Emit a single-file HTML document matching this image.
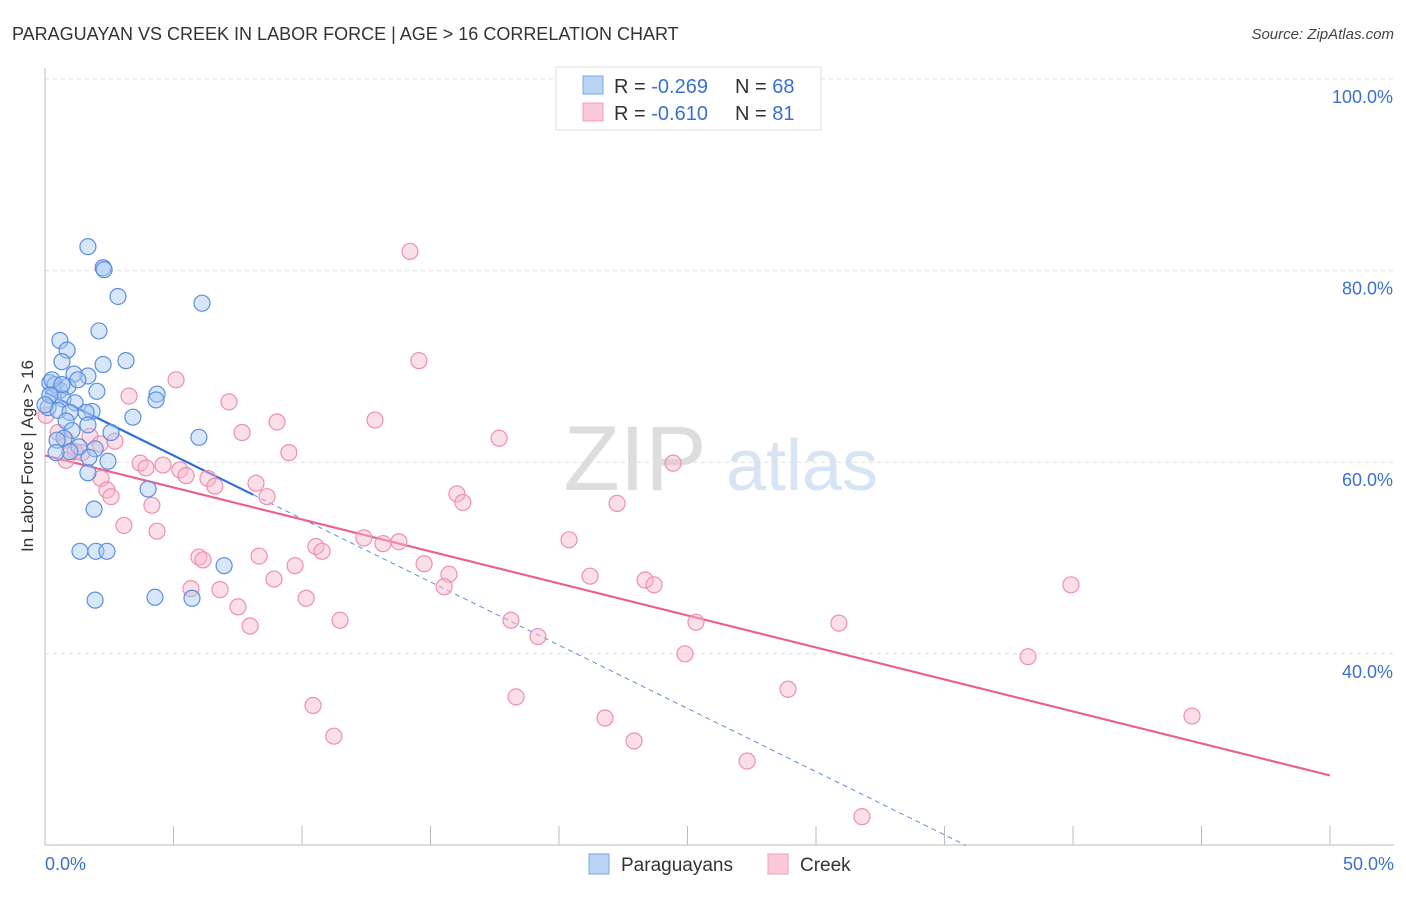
<!DOCTYPE html>
<html><head><meta charset="utf-8">
<style>
body{margin:0;background:#fff;font-family:"Liberation Sans",sans-serif;}
svg text{font-family:"Liberation Sans",sans-serif;}
</style></head>
<body>
<svg id="chart" width="1406" height="892" viewBox="0 0 1406 892" xmlns="http://www.w3.org/2000/svg">
<text x="12" y="40" font-size="18" fill="#333">PARAGUAYAN VS CREEK IN LABOR FORCE | AGE &gt; 16 CORRELATION CHART</text>
<text x="1394" y="39" font-size="15" fill="#444" text-anchor="end" font-style="italic">Source: ZipAtlas.com</text>
<g>
<text x="635" y="490" font-size="92" fill="#ddd" text-anchor="middle" font-family="Liberation Serif">ZIP</text>
<text x="802" y="490" font-size="72" fill="#d6e4f4" text-anchor="middle">atlas</text>
</g>
<g id="grid"></g>
<g id="axes"></g>
<g id="lines"></g>
<g id="points"></g>
<text transform="translate(33,456) rotate(-90)" font-size="17" fill="#333" text-anchor="middle">In Labor Force | Age &gt; 16</text>
<g>
<rect x="556" y="67" width="265" height="63" fill="#fff" stroke="#ddd"/>
<rect x="583" y="76" width="20" height="18" fill="#b9d3f5" stroke="#7aa7e6"/>
<rect x="583" y="103" width="20" height="18" fill="#fbc9d8" stroke="#f0a0b8"/>
<text x="614" y="93" font-size="20" fill="#333">R = <tspan fill="#3a70d0">-0.269</tspan><tspan x="735">N = </tspan><tspan fill="#3a70d0">68</tspan></text>
<text x="614" y="120" font-size="20" fill="#333">R = <tspan fill="#3a70d0">-0.610</tspan><tspan x="735">N = </tspan><tspan fill="#3a70d0"> 81</tspan></text>
</g>
<g>
<rect x="589" y="854" width="20" height="20" fill="#b9d3f5" stroke="#7aa7e6"/>
<text x="621" y="871" font-size="19" fill="#333">Paraguayans</text>
<rect x="768" y="854" width="20" height="20" fill="#fbc9d8" stroke="#f0a0b8"/>
<text x="800" y="871" font-size="19" fill="#333">Creek</text>
</g>
</svg>
<script>
const blueX=[1.67,2.26,2.30,2.84,6.11,0.58,2.10,0.86,0.66,2.26,3.15,1.67,1.13,2.02,4.36,4.32,0.19,0.39,0.58,0.89,0.31,0.70,1.17,0.12,0.51,0.97,1.83,1.60,3.42,0.82,1.67,1.05,0.74,2.57,5.99,0.47,1.32,1.95,0.97,0.43,1.71,2.45,1.67,4.01,1.91,1.36,1.98,2.41,6.97,1.95,4.28,5.72,0.27,0.19,0.66,1.28,0];
const blueY=[82.5,80.3,80.1,77.3,76.6,72.7,73.7,71.7,70.5,70.2,70.6,69.0,69.2,67.4,67.1,66.5,68.3,68.1,67.5,67.9,66.9,66.6,66.2,65.7,65.4,65.2,65.3,65.2,64.7,64.3,63.9,63.3,62.5,63.1,62.6,62.3,61.6,61.4,61.1,61.0,60.5,60.1,58.9,57.2,55.1,50.7,50.7,50.7,49.2,45.6,45.9,45.8,68.6,67.0,68.1,68.6,66.0];
const pinkX=[14.20,14.55,5.10,3.27,7.16,9.03,12.84,7.67,17.67,9.49,24.44,0.82,1.75,2.14,2.72,1.17,3.70,4.59,3.93,5.25,5.49,6.34,6.61,8.21,8.64,2.18,2.41,2.57,4.16,3.07,4.36,16.03,16.26,22.26,12.41,13.15,13.77,20.39,10.54,10.78,8.33,5.99,6.15,9.73,14.75,15.72,21.21,23.35,23.70,8.91,5.68,6.81,10.16,15.53,7.51,7.98,11.48,18.13,19.18,25.33,30.89,39.92,24.90,38.25,10.43,18.33,28.91,21.79,22.92,11.24,27.32,31.79,44.63,0.82,1.44,0.04,0.51];
const pinkY=[82.0,70.6,68.6,66.9,66.3,64.2,64.4,63.1,62.5,61.0,59.9,62.3,62.7,61.9,62.2,61.1,59.9,59.7,59.4,59.2,58.6,58.3,57.5,57.8,56.4,58.3,57.1,56.4,55.5,53.4,52.8,56.7,55.8,55.7,52.1,51.5,51.7,51.9,51.2,50.7,50.2,50.1,49.8,49.2,49.4,48.3,48.1,47.7,47.2,47.8,46.8,46.7,45.8,47.0,44.9,42.9,43.5,43.5,41.8,43.3,43.2,47.2,40.0,39.7,34.6,35.5,36.3,33.3,30.9,31.4,28.8,23.0,33.5,60.2,61.0,64.9,63.1];
const yTicks=[100,80,60,40];
const yTickLabels=["100.0%","80.0%","60.0%","40.0%"];
const xTicks=[0,5,10,15,20,25,30,35,40,45,50];
const blueFit=[67.3,-1.32,8.1];
const pinkFit=[60.7,-0.668];
const NS="http://www.w3.org/2000/svg";
const sx=v=>45+v*25.7;
const sy=v=>79+(100-v)*9.58;
function mk(t,a,p){const e=document.createElementNS(NS,t);for(const k in a)e.setAttribute(k,a[k]);p.appendChild(e);return e;}
const grid=document.getElementById('grid'),axes=document.getElementById('axes'),lines=document.getElementById('lines'),pts=document.getElementById('points');
yTicks.forEach((v,i)=>{
 const l=mk('line',{x1:45,x2:1394,y1:sy(v),y2:sy(v),stroke:'#ddd','stroke-dasharray':'4,4'},grid);
 
 
 const t=mk('text',{x:1393,y:sy(v)+24,'font-size':18,fill:'#3a70d0','text-anchor':'end'},axes);
 t.textContent=yTickLabels[i];
 
 
});
const ax=mk('line',{x1:45,x2:45,y1:68,y2:845,stroke:'#bbb'},axes);


const bx=mk('line',{x1:45,x2:1394,y1:845,y2:845,stroke:'#bbb'},axes);


xTicks.forEach(v=>{
 const l=mk('line',{x1:sx(v),x2:sx(v),y1:826,y2:845,stroke:'#bbb'},axes);
 
 
});
const x0=mk('text',{x:45,y:870,'font-size':18,fill:'#3a70d0'},axes);x0.textContent='0.0%';


const x1=mk('text',{x:1394,y:870,'font-size':18,fill:'#3a70d0','text-anchor':'end'},axes);x1.textContent='50.0%';


function drawPts(X,Y,fill,stroke,name){X.forEach((x,i)=>{const c=mk('circle',{cx:sx(x),cy:sy(Y[i]),r:8,fill:fill,'fill-opacity':0.45,stroke:stroke,'stroke-width':1.2},pts);
 
 });}
drawPts(pinkX,pinkY,'#f7b9cc','#ee8fae','creek-point');
drawPts(blueX,blueY,'#a9c8f2','#5b8fdc','paraguayan-point');
const xEnd=(20-blueFit[0])/blueFit[1];
const bd=mk('line',{x1:sx(blueFit[2]),y1:sy(blueFit[0]+blueFit[1]*blueFit[2]),x2:sx(xEnd),y2:sy(20),stroke:'#5b8fdc','stroke-width':1,'stroke-dasharray':'5,4'},lines);


const bs=mk('line',{x1:sx(0),y1:sy(blueFit[0]),x2:sx(blueFit[2]),y2:sy(blueFit[0]+blueFit[1]*blueFit[2]),stroke:'#2f6fd6','stroke-width':2.2},lines);


const ps=mk('line',{x1:sx(0),y1:sy(pinkFit[0]),x2:sx(50),y2:sy(pinkFit[0]+pinkFit[1]*50),stroke:'#e8628f','stroke-width':2.2},lines);


</script>
</body></html>
